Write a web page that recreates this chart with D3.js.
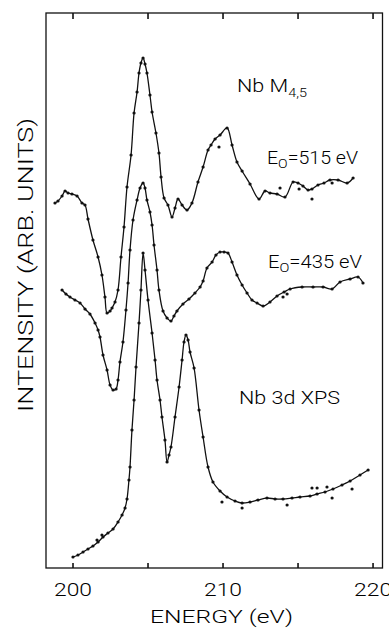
<!DOCTYPE html>
<html>
<head>
<meta charset="utf-8">
<title>Nb M4,5 / Nb 3d</title>
<script src="https://d3js.org/d3.v7.min.js"></script>
<style>
body {
  margin: 0;
  background: #fff;
}
.frame {
  fill: none;
  stroke: #111;
  stroke-width: 1.3px;
}
.tick {
  stroke: #111;
  stroke-width: 1.6px;
}
.spectrum {
  fill: none;
  stroke: #111;
  stroke-width: 1.3px;
  stroke-linejoin: round;
}
.dot {
  fill: #111;
}
text {
  font-family: Roboto, "Liberation Sans", Arial, sans-serif;
  font-weight: 300;
  fill: #000;
}
</style>
</head>
<body>
<script>

// energy (eV), intensity (arb. units)
var spec515 = [
  [198.80, 73.0], [199.00, 73.4], [199.27, 74.4], [199.47, 75.4], [199.67, 75.0],
  [199.93, 74.8], [200.27, 74.4], [200.60, 73.0], [200.80, 72.6], [201.00, 69.8],
  [201.33, 65.6], [201.67, 62.2], [201.93, 58.6], [202.13, 54.2], [202.27, 51.0],
  [202.47, 51.4], [202.60, 52.0], [202.80, 53.2], [203.00, 55.6], [203.20, 62.2],
  [203.40, 68.2], [203.60, 76.2], [203.87, 82.6], [204.07, 91.0], [204.27, 95.2],
  [204.40, 99.0], [204.53, 101.0], [204.67, 102.0], [204.80, 100.8], [204.93, 99.0],
  [205.13, 94.6], [205.27, 91.2], [205.53, 87.0], [205.73, 83.0], [205.87, 78.2],
  [206.07, 74.0], [206.33, 72.6], [206.60, 70.2], [206.80, 72.0], [207.00, 73.8],
  [207.27, 72.6], [207.60, 71.6], [207.93, 73.0], [208.33, 77.2], [208.67, 80.2],
  [209.00, 83.6], [209.20, 84.6], [209.47, 85.8], [209.80, 86.6], [210.27, 88.0],
  [210.60, 84.6], [210.93, 81.2], [211.27, 79.4], [211.80, 76.8], [212.40, 73.8],
  [212.80, 75.4], [213.13, 75.0], [213.60, 74.8], [214.13, 74.2], [214.67, 77.2],
  [215.00, 77.0], [215.33, 76.4], [215.67, 75.6], [215.93, 75.8], [216.33, 76.6],
  [216.73, 77.0], [217.13, 77.6], [217.67, 77.6], [218.27, 77.0], [218.67, 78.0]
];
var scatter515 = [[209.73, 84.2], [213.80, 76.0], [215.07, 75.8], [215.93, 73.8], [217.27, 77.0]];

var spec435 = [
  [199.27, 55.6], [199.53, 54.8], [199.80, 54.2], [200.13, 53.6], [200.47, 53.0],
  [200.80, 51.8], [201.13, 50.8], [201.47, 49.0], [201.67, 47.6], [201.80, 46.2],
  [202.00, 42.6], [202.27, 39.6], [202.47, 36.6], [202.67, 35.6], [202.87, 35.8],
  [203.00, 37.6], [203.13, 41.2], [203.33, 45.2], [203.53, 51.6], [203.67, 57.0],
  [203.80, 63.6], [204.00, 69.6], [204.27, 73.6], [204.47, 76.0], [204.67, 77.0],
  [204.80, 76.0], [204.93, 73.6], [205.13, 71.2], [205.27, 68.6], [205.40, 64.6],
  [205.60, 59.6], [205.73, 55.6], [206.00, 51.4], [206.27, 50.0], [206.53, 49.4],
  [206.73, 50.4], [206.93, 51.4], [207.33, 52.8], [207.73, 53.8], [208.13, 55.0],
  [208.47, 56.2], [208.67, 57.4], [208.93, 60.0], [209.27, 61.2], [209.53, 62.6],
  [209.80, 63.2], [210.07, 63.2], [210.33, 63.0], [210.60, 61.2], [210.93, 58.6],
  [211.27, 56.6], [211.60, 55.0], [211.93, 53.6], [212.27, 53.0], [212.67, 52.4],
  [213.13, 53.2], [213.60, 54.4], [214.07, 55.2], [214.47, 55.8], [215.27, 56.2],
  [216.00, 56.2], [216.67, 56.2], [217.27, 55.8], [217.80, 57.2], [218.47, 57.8],
  [219.00, 58.2], [219.33, 57.0]
];
var scatter435 = [[214.00, 54.2], [214.27, 54.8]];

var specXps = [
  [200.00, 2.2], [200.33, 2.6], [200.67, 3.2], [201.00, 3.8], [201.33, 4.4],
  [201.67, 5.2], [202.00, 6.2], [202.33, 7.0], [202.67, 7.8], [203.00, 9.2],
  [203.27, 10.6], [203.47, 12.0], [203.60, 13.8], [203.73, 17.6], [203.80, 20.2],
  [203.93, 27.6], [204.07, 33.6], [204.20, 40.2], [204.40, 49.0], [204.53, 55.6],
  [204.67, 63.0], [204.80, 59.6], [205.00, 53.6], [205.27, 47.0], [205.47, 41.6],
  [205.60, 37.6], [205.80, 33.6], [205.93, 30.2], [206.13, 25.6], [206.27, 21.2],
  [206.40, 22.6], [206.53, 24.2], [206.80, 30.2], [207.07, 36.2], [207.27, 41.6],
  [207.40, 45.2], [207.53, 46.6], [207.67, 45.6], [207.80, 43.2], [208.07, 40.0],
  [208.40, 31.6], [208.67, 26.2], [209.00, 20.2], [209.33, 17.2], [209.80, 15.4],
  [210.27, 14.2], [210.80, 13.4], [211.27, 13.0], [211.80, 13.2], [212.33, 13.6],
  [212.93, 14.0], [213.47, 13.8], [214.00, 13.8], [214.60, 14.0], [215.13, 14.2],
  [215.80, 14.4], [216.27, 14.8], [216.80, 15.2], [217.33, 15.8], [217.93, 16.6],
  [218.47, 17.4], [219.13, 18.6], [219.67, 19.6]
];
var scatterXps = [
  [201.60, 5.6], [201.93, 6.6], [209.93, 13.2], [211.27, 12.0], [214.27, 12.6],
  [215.93, 16.0], [216.27, 16.0], [216.93, 16.2], [217.27, 14.0], [218.60, 15.8]
];

var tickValues = [200, 205, 210, 215, 220];
var tickLabels = [200, 210, 220];

var width = 389, height = 628;
// plot box edges (window.top is read-only, so no "top" here)
var boxLeft = 46, boxRight = 382.5, boxTop = 13, boxBottom = 568;

var svg = d3.select("body").append("svg")
    .attr("width", width)
    .attr("height", height);

var x = d3.scaleLinear()
    .domain([198.2, 220.63])
    .range([boxLeft, boxRight]);

var y = d3.scaleLinear()
    .domain([0, 111])
    .range([boxBottom, boxTop]);

// box
svg.append("rect")
    .attr("class", "frame")
    .attr("x", boxLeft)
    .attr("y", boxTop)
    .attr("width", boxRight - boxLeft)
    .attr("height", boxBottom - boxTop);

// ticks point inwards, top ones a little longer
svg.selectAll("line.top")
    .data(tickValues)
  .enter().append("line")
    .attr("class", "tick")
    .attr("x1", function(d) { return x(d); })
    .attr("x2", function(d) { return x(d); })
    .attr("y1", boxTop)
    .attr("y2", boxTop + 6);

svg.selectAll("line.bot")
    .data(tickValues)
  .enter().append("line")
    .attr("class", "tick")
    .attr("x1", function(d) { return x(d); })
    .attr("x2", function(d) { return x(d); })
    .attr("y1", boxBottom)
    .attr("y2", boxBottom - 5);

svg.selectAll("text.ticklabel")
    .data(tickLabels)
  .enter().append("text")
    .attr("class", "ticklabel")
    .attr("x", function(d) { return x(d); })
    .attr("y", 596)
    .attr("text-anchor", "middle")
    .attr("textLength", 38)
    .attr("lengthAdjust", "spacingAndGlyphs")
    .style("font-size", "18px")
    .text(function(d) { return d; });

svg.append("text")
    .attr("x", 221.5)
    .attr("y", 622.5)
    .attr("text-anchor", "middle")
    .attr("textLength", 143)
    .attr("lengthAdjust", "spacingAndGlyphs")
    .style("font-size", "19px")
    .text("ENERGY (eV)");

svg.append("text")
    .attr("transform", "translate(33,265) rotate(-90)")
    .attr("text-anchor", "middle")
    .attr("textLength", 294)
    .attr("lengthAdjust", "spacingAndGlyphs")
    .style("font-size", "20px")
    .text("INTENSITY (ARB. UNITS)");

var line = d3.line()
    .x(function(d) { return x(d[0]); })
    .y(function(d) { return y(d[1]); })
    .curve(d3.curveCatmullRom.alpha(0.5));

var spectra = [
  {line: spec515, dots: scatter515},
  {line: spec435, dots: scatter435},
  {line: specXps, dots: scatterXps}
];

spectra.forEach(function(s) {
  svg.append("path")
      .datum(s.line)
      .attr("class", "spectrum")
      .attr("d", line);

  svg.append("g")
    .selectAll("circle")
    .data(s.line.concat(s.dots))
    .enter().append("circle")
      .attr("class", "dot")
      .attr("cx", function(d) { return x(d[0]); })
      .attr("cy", function(d) { return y(d[1]); })
      .attr("r", 1.6);
});

// labels
var t1 = svg.append("text")
    .attr("x", 237)
    .attr("y", 92)
    .attr("textLength", 70)
    .attr("lengthAdjust", "spacingAndGlyphs")
    .style("font-size", "18px");
t1.append("tspan").text("Nb M");
t1.append("tspan").attr("dy", 5).style("font-size", "12px").text("4,5");

function energyLabel(xp, yp, len, txt) {
  var t = svg.append("text")
      .attr("x", xp)
      .attr("y", yp)
      .attr("textLength", len)
      .attr("lengthAdjust", "spacingAndGlyphs")
      .style("font-size", "18px");
  t.append("tspan").text("E");
  t.append("tspan").attr("dy", 4).style("font-size", "13px").text("O");
  t.append("tspan").attr("dy", -4).text(txt);
}
energyLabel(267, 164, 91, "=515 eV");
energyLabel(268, 268, 94, "=435 eV");

svg.append("text")
    .attr("x", 239)
    .attr("y", 404)
    .attr("textLength", 101)
    .attr("lengthAdjust", "spacingAndGlyphs")
    .style("font-size", "18px")
    .text("Nb 3d XPS");

</script>
</body>
</html>
